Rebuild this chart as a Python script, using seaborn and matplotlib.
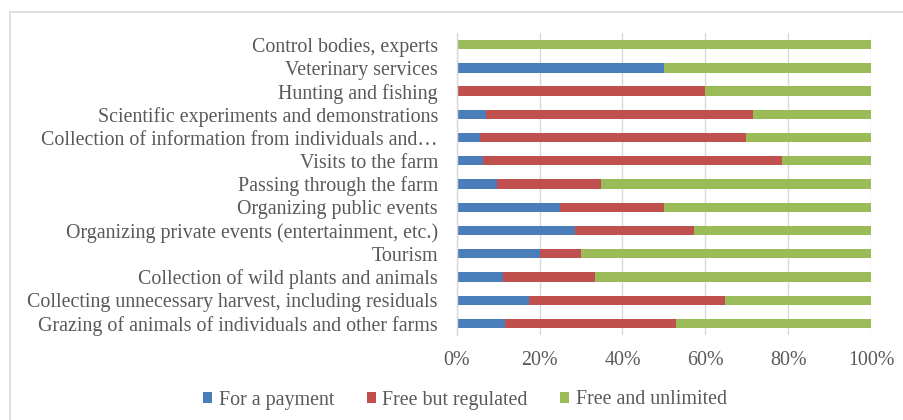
import matplotlib
matplotlib.use("Agg")
import matplotlib.pyplot as plt
from matplotlib.patches import Patch
import numpy as np
import pandas as pd
import seaborn as sns

categories = [
    "Control bodies, experts",
    "Veterinary services",
    "Hunting and fishing",
    "Scientific experiments and demonstrations",
    "Collection of information from individuals and\u2026",
    "Visits to the farm",
    "Passing through the farm",
    "Organizing public events",
    "Organizing private events (entertainment, etc.)",
    "Tourism",
    "Collection of wild plants and animals",
    "Collecting unnecessary harvest, including residuals",
    "Grazing of animals of individuals and other farms",
]
for_payment = [0.0, 50.0, 0.0, 7.1, 5.6, 6.4, 9.7, 25.0, 28.6, 20.0, 11.1, 17.5, 11.6]
free_regulated = [0.0, 0.0, 60.0, 64.3, 64.2, 72.2, 25.1, 25.0, 28.6, 10.0, 22.2, 47.2, 41.3]
free_unlimited = [100.0, 50.0, 40.0, 28.6, 30.2, 21.4, 65.2, 50.0, 42.8, 70.0, 66.7, 35.3, 47.1]
series_names = ["For a payment", "Free but regulated", "Free and unlimited"]
colors = ["#4a7ebb", "#c0504d", "#9bbb59"]
tick_labels = ["0%", "20%", "40%", "60%", "80%", "100%"]

df = pd.DataFrame({
    "category": categories,
    "pay": for_payment,
    "reg": free_regulated,
    "unl": free_unlimited,
})
# cumulative edges for stacking (drawn back to front)
df["c1"] = df["pay"]
df["c2"] = df["pay"] + df["reg"]
df["c3"] = df["pay"] + df["reg"] + df["unl"]

sns.set_style("white")
plt.rcParams["font.family"] = ["Liberation Serif", "DejaVu Serif"]
FS = 14.4

fig = plt.figure(figsize=(9.04, 4.2), dpi=100)
ax = fig.add_axes([0.5052, 0.2024, 0.9635 - 0.5052, 0.9214 - 0.2024])

for col, color in zip(["c3", "c2", "c1"], colors[::-1]):
    sns.barplot(data=df, x=col, y="category", order=categories, orient="h",
                color=color, width=0.4, saturation=1, linewidth=0, ax=ax)

ax.set_xlim(0, 100)
ax.set_ylim(len(categories) - 0.5, -0.5)
ax.set_xticks(np.linspace(0, 100, len(tick_labels)))
ax.set_xticklabels(tick_labels)
ax.set_xlabel("")
ax.set_ylabel("")
ax.set_axisbelow(True)
ax.grid(axis="x", color="#d9d9d9", linewidth=1)
ax.grid(axis="y", visible=False)
for side in ["top", "right", "bottom"]:
    ax.spines[side].set_visible(False)
ax.spines["left"].set_color("#d9d9d9")
ax.spines["left"].set_linewidth(1)
ax.tick_params(axis="both", length=0, colors="#595959", labelsize=FS)
ax.tick_params(axis="y", pad=13.5)
ax.tick_params(axis="x", pad=11.5)

handles = [Patch(facecolor=c, edgecolor="none", label=n) for c, n in zip(colors, series_names)]
leg = fig.legend(handles=handles, loc="center", bbox_to_anchor=(465 / 904, 1 - 400 / 420),
                 ncol=3, frameon=False, fontsize=FS, handlelength=0.45, handleheight=0.45,
                 handletextpad=0.35, columnspacing=1.6)
for t in leg.get_texts():
    t.set_color("#595959")

# outer chart border
fig.add_artist(plt.Line2D([10 / 904, 10 / 904], [0, 1 - 12 / 420], transform=fig.transFigure,
                          color="#d9d9d9", linewidth=1.2))
fig.add_artist(plt.Line2D([10 / 904, 1], [1 - 12 / 420, 1 - 12 / 420], transform=fig.transFigure,
                          color="#d9d9d9", linewidth=1.2))

fig.savefig("out.png", dpi=100)
